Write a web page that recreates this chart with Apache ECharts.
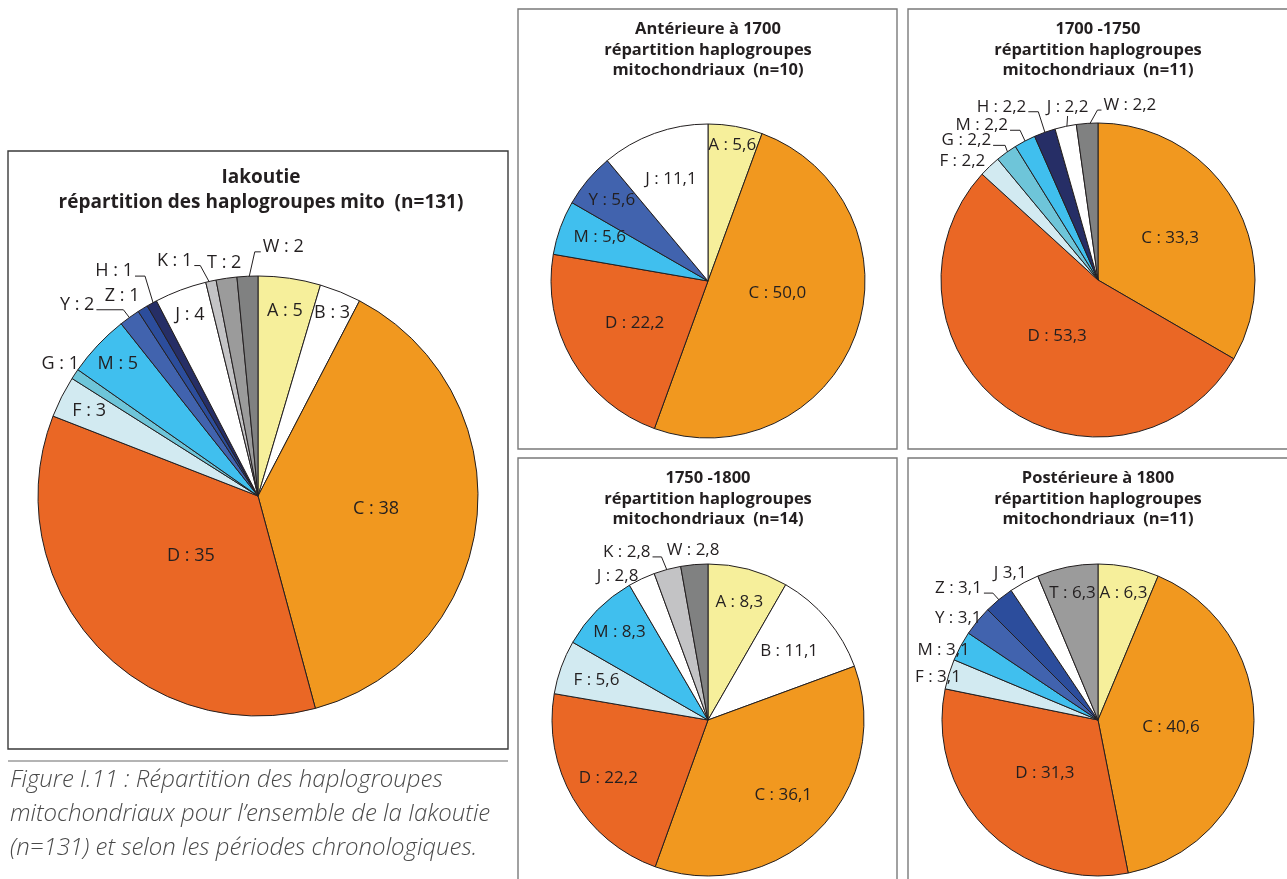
<!DOCTYPE html>
<html>
<head>
<meta charset="utf-8">
<title>Répartition des haplogroupes mitochondriaux – Iakoutie</title>
<script src="https://cdn.jsdelivr.net/npm/echarts@6/dist/echarts.min.js"></script>
<style>
  html, body { margin: 0; padding: 0; background: #fff; }
  #main { width: 1287px; height: 879px; }
</style>
</head>
<body>
<div id="main"></div>
<script>
// Iakoutie, ensemble (n=131): slice sizes, labels = printed %
const mainNames  = ['A', 'B', 'C', 'D', 'F', 'G', 'M', 'Y', 'Z', 'H', 'J', 'K', 'T', 'W'];
const mainShares = [6, 4, 50, 46, 4, 1, 6, 2, 1, 1, 5, 1, 2, 2];
const mainLabels = ['A : 5', 'B : 3', 'C : 38', 'D : 35', 'F : 3', 'G : 1', 'M : 5',
                    'Y : 2', 'Z : 1', 'H : 1', 'J : 4', 'K : 1', 'T : 2', 'W : 2'];

// Antérieure à 1700 (n=10)
const antNames  = ['A', 'C', 'D', 'M', 'Y', 'J'];
const antValues = [5.6, 50.0, 22.2, 5.6, 5.6, 11.1];
const antLabels = ['A : 5,6', 'C : 50,0', 'D : 22,2', 'M : 5,6', 'Y : 5,6', 'J : 11,1'];

// 1700 - 1750 (n=11)
const p1750Names  = ['C', 'D', 'F', 'G', 'M', 'H', 'J', 'W'];
const p1750Values = [33.3, 53.3, 2.2, 2.2, 2.2, 2.2, 2.2, 2.2];
const p1750Labels = ['C : 33,3', 'D : 53,3', 'F : 2,2', 'G : 2,2', 'M : 2,2', 'H : 2,2', 'J : 2,2', 'W : 2,2'];

// 1750 - 1800 (n=14)
const p1800Names  = ['A', 'B', 'C', 'D', 'F', 'M', 'J', 'K', 'W'];
const p1800Values = [8.3, 11.1, 36.1, 22.2, 5.6, 8.3, 2.8, 2.8, 2.8];
const p1800Labels = ['A : 8,3', 'B : 11,1', 'C : 36,1', 'D : 22,2', 'F : 5,6', 'M : 8,3', 'J : 2,8', 'K : 2,8', 'W : 2,8'];

// Postérieure à 1800 (n=11)
const postNames  = ['A', 'C', 'D', 'F', 'M', 'Y', 'Z', 'J', 'T'];
const postValues = [6.3, 40.6, 31.3, 3.1, 3.1, 3.1, 3.1, 3.1, 6.3];
const postLabels = ['A : 6,3', 'C : 40,6', 'D : 31,3', 'F : 3,1', 'M : 3,1', 'Y : 3,1', 'Z : 3,1', 'J 3,1', 'T : 6,3'];

const hgColors = {
  A: '#F6EF9B', B: '#FFFFFF', C: '#F1981F', D: '#EA6725', F: '#D2EAF1', G: '#6EC5D9',
  M: '#40BFEE', Y: '#4163AE', Z: '#2C4D9C', H: '#262E66', J: '#FFFFFF', K: '#C3C3C5',
  T: '#9B9B9B', W: '#808181'
};

// label placement: [radius fraction, nudge x, nudge y] or lead: [elbow dx, elbow dy, horizontal run]
const labelPlace = {
  main: {
    A: [0.85], B: [0.9], C: [0.54], D: [0.41], F: [0.86], G: [1.08], M: [0.875],
    Z: [1.1, -9, 6], J: [0.88], T: [1.07],
    Y: { lead: [-10, -13, -27] }, H: { lead: [-10, -33, -10] },
    K: { lead: [-12, -22, -6] }, W: { lead: [7, -31, 6] }
  },
  ant: { A: [0.88], C: [0.45, 3, -12], D: [0.54], M: [0.72, -2, -5], Y: [0.8], J: [0.69] },
  p1750: {
    C: [0.53], D: [0.44], F: [1.15, -11, 12],
    G: { lead: [-4, -11, -12] }, M: { lead: [-7, -15, -10] }, H: { lead: [-8, -25, -10] },
    J: { lead: [1, -15, 0] }, W: { lead: [10, -18, 4] }
  },
  p1800: {
    A: [0.78], B: [0.68], C: [0.68], D: [0.74], F: [0.76], M: [0.8],
    J: [1.09, -18, 10], K: { lead: [-7, -17, -9] }, W: [1.09]
  },
  post: {
    A: [0.83], C: [0.47], D: [0.48], F: [1.06, -2, 6], M: [1.08, -6, 10], Y: [1.11, -6, 8],
    Z: { lead: [-9, -10, -9] }, J: [1.08, -8, 2], T: [0.83]
  }
};

const ink = '#231F20';
const font = "'Open Sans', 'Noto Sans', sans-serif";

function pieSeries(key, names, values, labels, center, r, fontSize) {
  const total = values.reduce((s, v) => s + v, 0);
  const mids = [];
  let acc = 0;
  values.forEach(v => { mids.push((acc + v / 2) / total * 2 * Math.PI); acc += v; });
  const spec = labelPlace[key];
  return {
    type: 'pie',
    name: key,
    center: center,
    radius: r,
    startAngle: 90,
    clockwise: true,
    avoidLabelOverlap: false,
    silent: true,
    itemStyle: { borderColor: ink, borderWidth: 1 },
    label: {
      show: true, position: 'inside', color: ink, fontFamily: font, fontSize: fontSize,
      textBorderWidth: 0, formatter: p => labels[p.dataIndex]
    },
    labelLine: { show: false },
    data: names.map((n, i) => {
      const lead = spec[n] && !Array.isArray(spec[n]);
      return {
        name: n,
        value: values[i],
        itemStyle: { color: hgColors[n] },
        label: lead ? { position: 'outside' } : {},
        labelLine: lead
          ? { show: true, length: 5, length2: 5, lineStyle: { color: ink, width: 1 } }
          : { show: false }
      };
    }),
    labelLayout: function (p) {
      const s = spec[names[p.dataIndex]];
      const a = mids[p.dataIndex];
      const ux = Math.sin(a), uy = -Math.cos(a);
      if (Array.isArray(s)) {
        return {
          x: center[0] + ux * s[0] * r + (s[1] || 0),
          y: center[1] + uy * s[0] * r + (s[2] || 0),
          align: 'center', verticalAlign: 'middle'
        };
      }
      const [ex, ey, h] = s.lead;
      const sx = center[0] + ux * 0.97 * r, sy = center[1] + uy * 0.97 * r;
      const kx = sx + ex, ky = sy + ey, tx = kx + h;
      const align = h < 0 ? 'right' : (h > 0 ? 'left' : 'center');
      return {
        x: tx + (h < 0 ? -2 : (h > 0 ? 2 : 0)),
        y: ky - (h === 0 ? 9 : 5),
        align: align, verticalAlign: 'middle',
        labelLinePoints: [[sx, sy], [kx, ky], [tx, ky]]
      };
    }
  };
}

function box(x, y, w, h, color) {
  return { type: 'rect', shape: { x: x, y: y, width: w, height: h },
           style: { fill: 'none', stroke: color, lineWidth: 1.4 }, z: 0 };
}

function title(x, y, text, size, lh) {
  return { type: 'text', x: x, y: y, z: 5,
           style: { text: text, fill: ink, fontFamily: font, fontWeight: 'bold', fontSize: size,
                    lineHeight: lh, align: 'center', verticalAlign: 'middle' } };
}

const chart = echarts.init(document.getElementById('main'));

chart.setOption({
  backgroundColor: '#fff',
  animation: false,
  graphic: [
    box(8, 151, 500, 598, '#3a3a3a'),
    box(518, 9, 379, 440, '#7a7a7a'),
    box(908, 9, 380, 440, '#7a7a7a'),
    box(518, 458, 379, 440, '#7a7a7a'),
    box(908, 458, 380, 440, '#7a7a7a'),
    { type: 'line', shape: { x1: 8, y1: 761, x2: 508, y2: 761 },
      style: { stroke: '#6a6a6a', lineWidth: 1.2 } },
    title(261, 190, 'Iakoutie\nrépartition des haplogroupes mito  (n=131)', 19, 25),
    title(708, 50, 'Antérieure à 1700\nrépartition haplogroupes\nmitochondriaux  (n=10)', 16.5, 20.5),
    title(1098, 50, '1700 -1750\nrépartition haplogroupes\nmitochondriaux  (n=11)', 16.5, 20.5),
    title(708, 499, '1750 -1800\nrépartition haplogroupes\nmitochondriaux  (n=14)', 16.5, 20.5),
    title(1098, 499, 'Postérieure à 1800\nrépartition haplogroupes\nmitochondriaux  (n=11)', 16.5, 20.5),
    { type: 'text', x: 10, y: 763, z: 5,
      style: { text: 'Figure I.11 : Répartition des haplogroupes\nmitochondriaux pour l’ensemble de la Iakoutie\n(n=131) et selon les périodes chronologiques.',
               fill: '#4a4a4a', fontFamily: font, fontStyle: 'italic', fontWeight: 300, fontSize: 24,
               lineHeight: 34, align: 'left', verticalAlign: 'top' } }
  ],
  series: [
    pieSeries('main', mainNames, mainShares, mainLabels, [258, 496], 220, 18),
    pieSeries('ant', antNames, antValues, antLabels, [708, 281], 157, 17),
    pieSeries('p1750', p1750Names, p1750Values, p1750Labels, [1098, 280], 157, 17),
    pieSeries('p1800', p1800Names, p1800Values, p1800Labels, [708, 720], 156, 17),
    pieSeries('post', postNames, postValues, postLabels, [1098, 720], 156, 17)
  ]
});
</script>
</body>
</html>
